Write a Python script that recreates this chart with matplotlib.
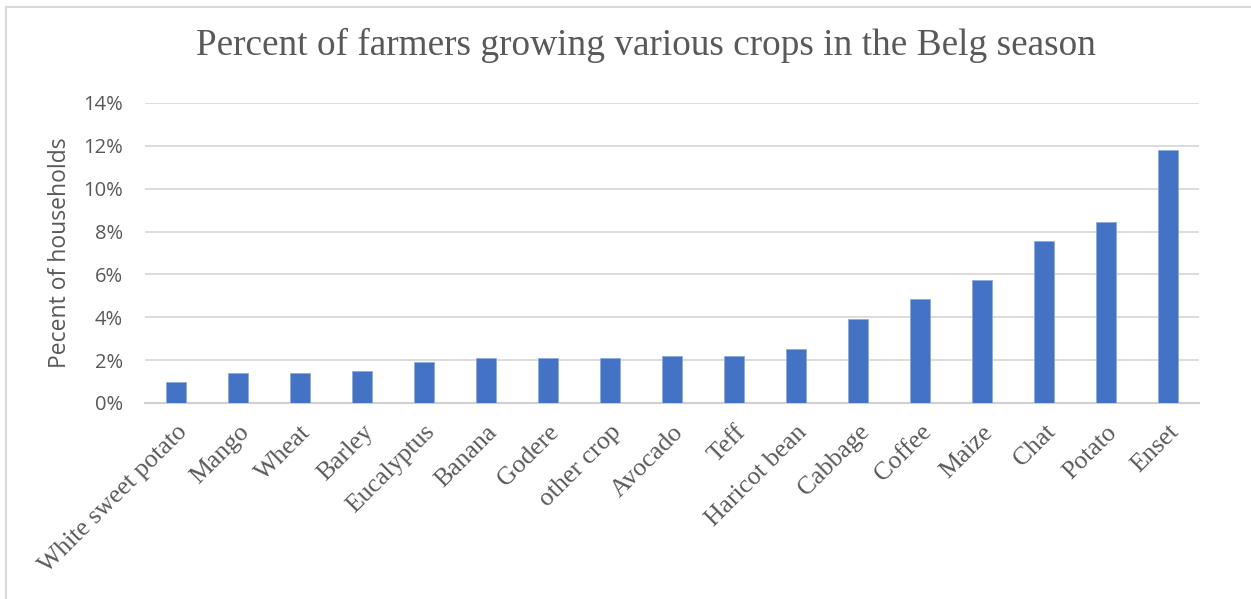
import matplotlib.pyplot as plt
from matplotlib.patches import Rectangle
from matplotlib.ticker import PercentFormatter

crops = ["White sweet potato", "Mango", "Wheat", "Barley", "Eucalyptus", "Banana",
         "Godere", "other crop", "Avocado", "Teff", "Haricot bean", "Cabbage",
         "Coffee", "Maize", "Chat", "Potato", "Enset"]
pct = [1.0, 1.4, 1.4, 1.5, 1.9, 2.1, 2.1, 2.1, 2.2, 2.2, 2.5, 3.9, 4.85, 5.75, 7.55, 8.45, 11.8]

grey = "#595959"
fig = plt.figure(figsize=(12.51, 5.99), dpi=100)
ax = fig.add_axes([145 / 1251, 1 - 403 / 599, 1054 / 1251, 300 / 599])

x = range(len(crops))
ax.bar(x, pct, width=0.32, color="#4472c4", edgecolor="#8faadc", linewidth=0.6, zorder=3)

ax.set_xlim(-0.5, len(crops) - 0.5)
ax.set_ylim(0, 14)
ax.set_yticks(range(0, 15, 2))
ax.yaxis.set_major_formatter(PercentFormatter(decimals=0))
ax.grid(axis="y", color="#d9d9d9", linewidth=1.3, zorder=0)
for s in ["top", "right", "left"]:
    ax.spines[s].set_visible(False)
ax.spines["bottom"].set_color("#d0d0d0")
ax.spines["bottom"].set_linewidth(1.5)
ax.tick_params(axis="both", length=0)
ax.tick_params(axis="y", labelsize=14.5, labelcolor=grey, pad=16)
for lab in ax.get_yticklabels():
    lab.set_fontfamily("Open Sans")

ax.set_xticks(list(x))
ax.set_xticklabels(crops, rotation=45, ha="right", rotation_mode="anchor",
                   fontfamily="Liberation Serif", fontsize=18.5, color=grey)
ax.tick_params(axis="x", pad=13)

ax.set_ylabel("Pecent of households", fontfamily="Open Sans", fontsize=16.5, color=grey, labelpad=8)

fig.text(646 / 1251, 1 - 45 / 599, "Percent of farmers growing various crops in the Belg season",
         ha="center", va="center", fontfamily="Liberation Serif", fontsize=26.8, color=grey)

# thin frame around the chart area
fig.patches.append(Rectangle((6 / 1251, -0.1), 1.2, 1 - 7 / 599 + 0.1, transform=fig.transFigure,
                             fill=False, edgecolor="#d9d9d9", linewidth=1.5))

fig.savefig("out.png", dpi=100)
